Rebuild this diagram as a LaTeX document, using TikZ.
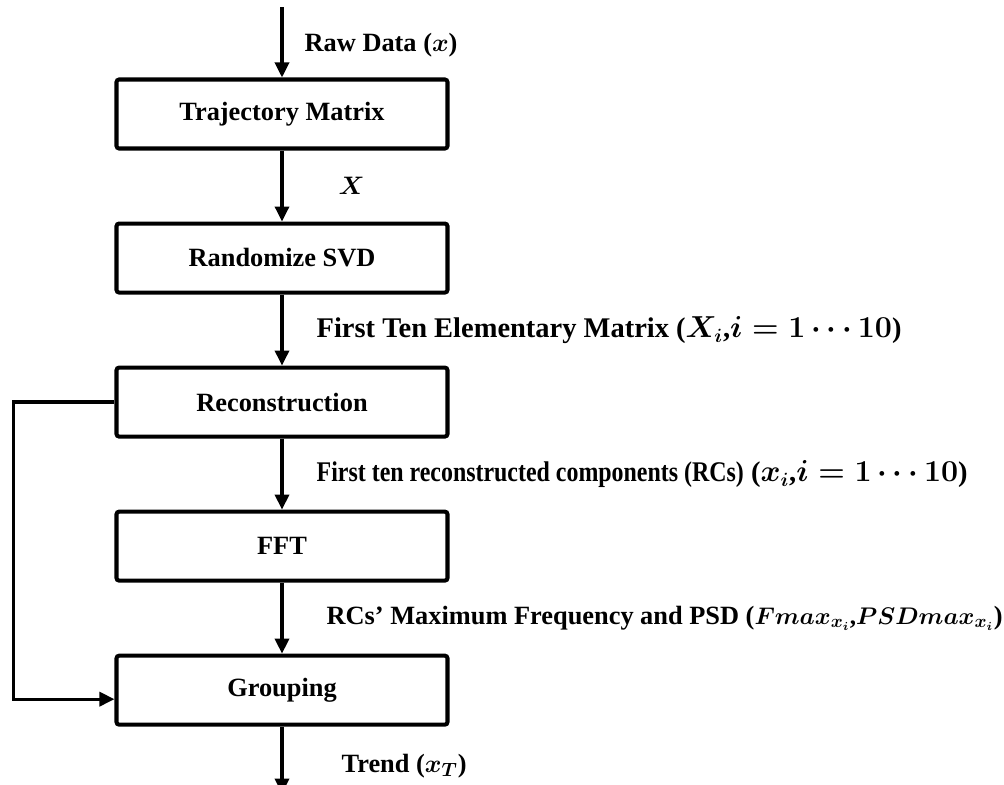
\documentclass[tikz,border=0pt]{standalone}
\usepackage{fontspec}
\setmainfont{Liberation Serif}
\usetikzlibrary{arrows.meta, positioning}

\begin{document}
\begin{tikzpicture}[
  node distance=1.42cm,
  box/.style={draw, line width=2.3pt, rounded corners=1.5pt, minimum width=6.62cm,
              minimum height=1.38cm, align=center, font=\fontsize{15}{18}\selectfont\bfseries},
  arr/.style={-{Triangle[length=0.3cm, width=0.28cm]}, line width=1.9pt},
  lbl/.style={font=\fontsize{15}{18}\selectfont\bfseries\boldmath, inner sep=0pt},
  lblbig/.style={lbl, font=\fontsize{16.2}{19}\selectfont\bfseries\boldmath}
]
  \useasboundingbox (0,0) rectangle (20.08,-15.7);
  \node[box] (traj) at (5.64,-2.28) {Trajectory Matrix};
  \node[box, below=of traj] (svd) {Randomize SVD};
  \node[box, below=of svd]  (rec) {Reconstruction};
  \node[box, below=of rec]  (fft) {FFT};
  \node[box, below=of fft]  (grp) {Grouping};
  \coordinate[above=1.4cm of traj] (in);
  \coordinate[below=1.34cm of grp] (out);
  \draw[arr] (in) -- node[lbl, right=0.42cm, yshift=-0.05cm] {Raw Data ($x$)} (traj);
  \draw[arr] (traj) -- node[lbl, right=1.1cm] {$X$} (svd);
  \draw[arr] (svd) -- node[lblbig, right=0.66cm]
    {First Ten Elementary Matrix ($X_i$,$i = 1\cdots10$)} (rec);
  \draw[arr] (rec) -- node[lblbig, right=0.66cm]
    {\scalebox{0.84}[1]{First ten reconstructed components (RCs)} ($x_i$,$i = 1\cdots10$)} (fft);
  \draw[arr] (fft) -- node[lbl, right=0.86cm]
    {RCs’ Maximum Frequency and PSD (\scalebox{0.95}{$Fmax_{x_i}$,$PSDmax_{x_i}$})} (grp);
  \draw[arr] (grp) -- node[lbl, right=1.16cm, yshift=-0.12cm] {Trend ($x_T$)} (out);
  % feedback from reconstruction straight to grouping
  \draw[arr] (rec.west) -- ++(-2.02,0) |- ([yshift=-0.18cm]grp.west);
\end{tikzpicture}
\end{document}
